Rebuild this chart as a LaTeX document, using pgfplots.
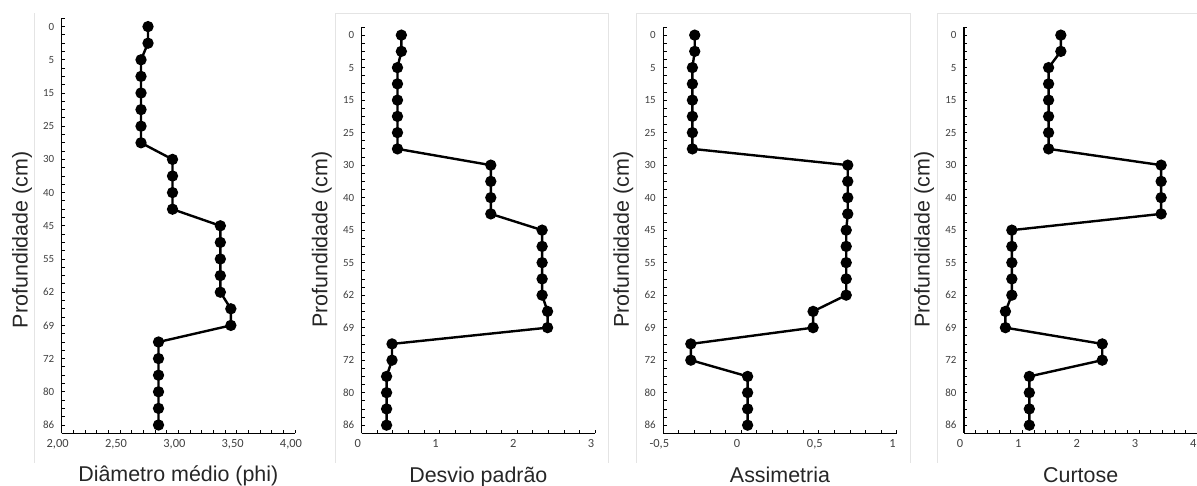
\documentclass[border=0pt]{standalone}
\usepackage{fontspec}
\setmainfont{Liberation Sans}
\newfontfamily\calibri{Carlito}
\usepackage{pgfplots}
\usepackage{pgfplotstable}
\pgfplotsset{compat=1.18}

\pgfplotstableread{
idx diam desv assim curt
0 2.74 0.51 -0.298 1.66
1 2.74 0.51 -0.298 1.66
2 2.68 0.46 -0.313 1.45
3 2.68 0.46 -0.313 1.45
4 2.68 0.46 -0.313 1.45
5 2.68 0.46 -0.313 1.45
6 2.68 0.46 -0.313 1.45
7 2.68 0.46 -0.313 1.45
8 2.95 1.66 0.686 3.38
9 2.95 1.66 0.686 3.38
10 2.95 1.66 0.686 3.38
11 2.95 1.66 0.686 3.38
12 3.36 2.32 0.676 0.82
13 3.36 2.32 0.676 0.82
14 3.36 2.32 0.676 0.82
15 3.36 2.32 0.676 0.82
16 3.36 2.32 0.676 0.82
17 3.45 2.39 0.463 0.71
18 3.45 2.39 0.463 0.71
19 2.83 0.39 -0.323 2.37
20 2.83 0.39 -0.323 2.37
21 2.83 0.32 0.042 1.12
22 2.83 0.32 0.042 1.12
23 2.83 0.32 0.042 1.12
24 2.83 0.32 0.042 1.12
}\data

\definecolor{ticktext}{HTML}{404040}
\definecolor{frame}{HTML}{E4E4E4}

\pgfplotsset{
  panel/.style={
    scale only axis,
    width=233.3bp,
    anchor=south west,
    axis x line=bottom, axis y line=left,
    axis line style={-, black, line width=1.2bp},
    y dir=reverse, ymin=-0.5, ymax=24.5,
    ytick={0,2,...,24},
    yticklabels={0,5,15,25,30,40,45,55,62,69,72,80,86},
    minor ytick={-0.5,0,...,24.5},
    minor x tick num=4,
    tick align=inside,
    major tick length=3.3bp, minor tick length=3.3bp,
    tick style={black, line width=0.8bp},
    /pgf/number format/assume math mode=true,
    yticklabel style={font=\calibri\fontsize{11}{13}\selectfont, text=ticktext, xshift=-4bp},
    xticklabel style={font=\calibri\fontsize{12.5}{14}\selectfont, text=ticktext, yshift=-3bp, xshift=-4bp},
    label style={font=\fontsize{21.5}{24}\selectfont, text=black!85},
    ylabel={Profundidade (cm)},
    clip=false,
  },
  series/.style={black, line width=2.4bp, mark=*, mark size=4.4bp, mark options={solid, fill=black}},
}

\begin{document}
\begin{tikzpicture}[x=1bp,y=1bp]
\useasboundingbox (0,0) rectangle (1197,486);
% light chart-area frames
\draw[frame, line width=0.8bp] (34,23) -- (34,473);
\draw[frame, line width=0.8bp] (335,23) -- (335,473) -- (608,473) -- (608,23);
\draw[frame, line width=0.8bp] (636,23) -- (636,473) -- (910,473) -- (910,23);
\draw[frame, line width=0.8bp] (937,23) -- (937,473) -- (1197,473);

% Panel 1
\begin{axis}[panel, at={(61.7bp,52.7bp)}, height=415bp,
  xmin=2, xmax=4, xtick={2,2.5,3,3.5,4},
  /pgf/number format/fixed, /pgf/number format/fixed zerofill,
  /pgf/number format/precision=2, /pgf/number format/use comma,
  xlabel={Diâmetro médio (phi)},
  xlabel style={at={(axis description cs:0.5,-0.117)}, anchor=base},
  ylabel style={at={(axis description cs:-0.17,0.466)}, anchor=center},
]
\addplot[series] table[x=diam, y=idx] {\data};
\end{axis}

% Panel 2
\begin{axis}[panel, at={(361.7bp,52.7bp)}, height=406.3bp,
  xmin=0, xmax=3, xtick={0,1,2,3},
  xlabel={Desvio padrão},
  xlabel style={at={(axis description cs:0.5,-0.12)}, anchor=base},
  ylabel style={at={(axis description cs:-0.171,0.476)}, anchor=center},
]
\addplot[series] table[x=desv, y=idx] {\data};
\end{axis}

% Panel 3
\begin{axis}[panel, at={(663.3bp,52.7bp)}, height=406.3bp,
  xmin=-0.5, xmax=1, xtick={-0.5,0,0.5,1},
  /pgf/number format/use comma,
  xlabel={Assimetria},
  xlabel style={at={(axis description cs:0.5,-0.12)}, anchor=base},
  ylabel style={at={(axis description cs:-0.171,0.476)}, anchor=center},
]
\addplot[series] table[x=assim, y=idx] {\data};
\end{axis}

% Panel 4
\begin{axis}[panel, at={(964bp,52.7bp)}, height=406.3bp,
  xmin=0, xmax=4, xtick={0,1,2,3,4},
  xlabel={Curtose},
  xlabel style={at={(axis description cs:0.5,-0.12)}, anchor=base},
  ylabel style={at={(axis description cs:-0.171,0.476)}, anchor=center},
]
\addplot[series] table[x=curt, y=idx] {\data};
\end{axis}
\end{tikzpicture}
\end{document}
